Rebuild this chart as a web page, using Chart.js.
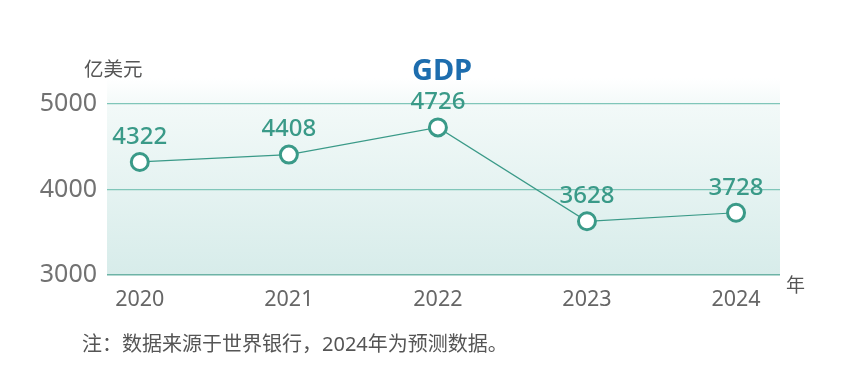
<!DOCTYPE html>
<html><head><meta charset="utf-8">
<script src="https://cdn.jsdelivr.net/npm/chart.js@4/dist/chart.umd.min.js"></script>
<style>html,body{margin:0;padding:0;background:#fff;}#wrap{width:848px;height:370px;position:relative;}</style>
</head><body><div id="wrap"><canvas id="c" width="848" height="370"></canvas></div>
<script>
const years = [2020, 2021, 2022, 2023, 2024];
const gdp = [4322, 4408, 4726, 3628, 3728];
const yTicks = [3000, 4000, 5000];
const titleText = 'GDP';
const unitText = '亿美元';
const xUnitText = '年';
const noteText = '注：数据来源于世界银行，2024年为预测数据。';

const FONT = '"Noto Sans", Roboto, "Noto Sans CJK SC", sans-serif';
const TEAL = '#3a9a88';

const bgPlugin = {
  id: 'bg',
  beforeDraw(chart) {
    const {ctx, chartArea: a} = chart;
    const g = ctx.createLinearGradient(0, a.top, 0, a.bottom);
    g.addColorStop(0, 'rgba(255,255,255,1)');
    g.addColorStop(0.15, '#f2f9f8');
    g.addColorStop(1, '#d7ecea');
    ctx.save();
    ctx.fillStyle = g;
    ctx.fillRect(a.left, a.top, a.right - a.left, a.bottom - a.top);
    ctx.restore();
  }
};

const textPlugin = {
  id: 'texts',
  afterDraw(chart) {
    const {ctx} = chart;
    ctx.save();
    ctx.textBaseline = 'middle';
    ctx.fillStyle = '#1d6dae';
    ctx.font = 'bold 29px ' + FONT;
    ctx.textAlign = 'center';
    ctx.fillText(titleText, 442, 72);
    ctx.fillStyle = '#555';
    ctx.font = '19.5px ' + FONT;
    ctx.textAlign = 'left';
    ctx.fillText(unitText, 84, 70);
    ctx.font = '19px ' + FONT;
    ctx.fillText(xUnitText, 786, 287);
    ctx.font = '20px ' + FONT;
    ctx.fillText(noteText, 82, 345);
    const meta = chart.getDatasetMeta(0);
    ctx.fillStyle = TEAL;
    ctx.font = '500 24px ' + FONT;
    ctx.textAlign = 'center';
    meta.data.forEach((p, i) => {
      ctx.fillText(String(gdp[i]), p.x, p.y - 25);
    });
    ctx.restore();
  }
};

new Chart(document.getElementById('c'), {
  type: 'line',
  data: {
    datasets: [{
      data: years.map((y, i) => ({x: y, y: gdp[i]})),
      borderColor: TEAL,
      borderWidth: 1.2,
      pointRadius: 8.5,
      pointBorderWidth: 3,
      pointBackgroundColor: '#ffffff',
      pointBorderColor: TEAL,
      tension: 0
    }]
  },
  options: {
    responsive: false,
    animation: false,
    layout: {padding: {top: 78, right: 68, left: 0, bottom: 0}},
    plugins: {legend: {display: false}, tooltip: {enabled: false}, title: {display: false}},
    scales: {
      x: {
        type: 'linear',
        min: 2019.78,
        max: 2024.295,
        afterBuildTicks(s) { s.ticks = years.map(v => ({value: v})); },
        afterFit(s) { s.height = 95; },
        grid: {display: false, drawTicks: false},
        border: {display: false},
        ticks: {
          padding: 12,
          color: '#666',
          font: {family: FONT, size: 21.5},
          callback: v => String(v)
        }
      },
      y: {
        min: 3000,
        max: 5304,
        afterBuildTicks(s) { s.ticks = yTicks.map(v => ({value: v})); },
        afterFit(s) { s.width = 107; },
        grid: {
          drawTicks: false,
          color: ctx => ctx.tick && ctx.tick.value === 3000 ? '#6db3a6' : '#80c6b9',
          lineWidth: ctx => ctx.tick && ctx.tick.value === 3000 ? 1.6 : 1.3
        },
        border: {display: false},
        ticks: {
          padding: 10,
          color: '#727272',
          font: {family: FONT, size: 25},
          callback: v => String(v)
        }
      }
    }
  },
  plugins: [bgPlugin, textPlugin]
});
</script>
</body></html>
